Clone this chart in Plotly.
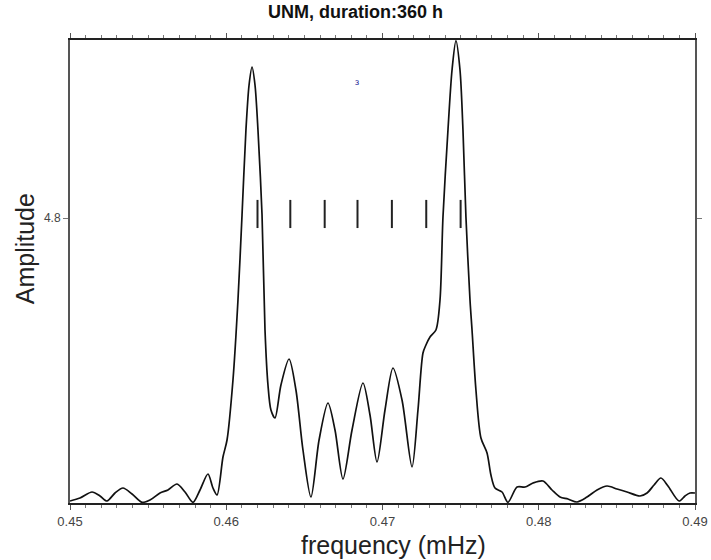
import plotly.graph_objects as go

# Spectrum trace (frequency in mHz, amplitude)
freq = [0.45000, 0.45064, 0.45141, 0.45192, 0.45237, 0.45288, 0.45339, 0.45397, 0.45461, 0.45512,
        0.45576, 0.45627, 0.45685, 0.45736, 0.45787, 0.45832, 0.45883, 0.45915, 0.45941, 0.45979,
        0.46005, 0.46043, 0.46075, 0.46101, 0.46126, 0.46146, 0.46165, 0.46184, 0.46203, 0.46229,
        0.46248, 0.46267, 0.46286, 0.46312, 0.46350, 0.46402, 0.46446, 0.46491, 0.46542, 0.46594,
        0.46651, 0.46696, 0.46747, 0.46805, 0.46875, 0.46920, 0.46965, 0.47016, 0.47067, 0.47125,
        0.47189, 0.47227, 0.47259, 0.47278, 0.47304, 0.47342, 0.47368, 0.47387, 0.47419, 0.47445,
        0.47470, 0.47496, 0.47515, 0.47534, 0.47560, 0.47573, 0.47598, 0.47630, 0.47669, 0.47694,
        0.47720, 0.47765, 0.47803, 0.47861, 0.47912, 0.47963, 0.48027, 0.48085, 0.48136, 0.48187,
        0.48245, 0.48309, 0.48373, 0.48437, 0.48501, 0.48565, 0.48648, 0.48693, 0.48738, 0.48782,
        0.48827, 0.48898, 0.48936, 0.48968, 0.49000]
amplitude = [4.0056, 4.0140, 4.0309, 4.0197, 4.0056, 4.0281, 4.0421, 4.0253, 4.0020, 4.0084,
             4.0281, 4.0365, 4.0533, 4.0309, 4.0020, 4.0365, 4.0814, 4.0421, 4.0225, 4.1292,
             4.1769, 4.3454, 4.5700, 4.8086, 5.0473, 5.1737, 5.2242, 5.1737, 5.0473, 4.8086,
             4.4858, 4.3313, 4.2611, 4.2387, 4.3313, 4.4043, 4.3173, 4.1488, 4.0168, 4.1769,
             4.2808, 4.2050, 4.0674, 4.2050, 4.3369, 4.2471, 4.1151, 4.2611, 4.3791, 4.2892,
             4.1011, 4.2611, 4.4212, 4.4436, 4.4661, 4.4858, 4.5700, 4.8030, 5.0473, 5.2158,
             5.2980, 5.2158, 5.0473, 4.8030, 4.5700, 4.4858, 4.3173, 4.1825, 4.1404, 4.0786,
             4.0421, 4.0309, 4.0020, 4.0449, 4.0449, 4.0562, 4.0618, 4.0365, 4.0168, 4.0112,
             4.0028, 4.0168, 4.0365, 4.0477, 4.0393, 4.0309, 4.0197, 4.0281, 4.0505, 4.0702,
             4.0477, 4.0056, 4.0197, 4.0281, 4.0281]

# Predicted singlet frequencies (vertical markers)
marker_freq = [0.4620, 0.4641, 0.4663, 0.4684, 0.4706, 0.4728, 0.4750]
marker_low = 4.772
marker_high = 4.851

title_text = "UNM, duration:360 h"
x_title = "frequency (mHz)"
y_title = "Amplitude"
x_ticks = [0.45, 0.46, 0.47, 0.48, 0.49]
x_ticklabels = ["0.45", "0.46", "0.47", "0.48", "0.49"]
y_ticks = [4.8]
y_ticklabels = ["4.8"]

mx, my = [], []
for f in marker_freq:
    mx += [f, f, None]
    my += [marker_low, marker_high, None]

fig = go.Figure()
fig.add_trace(go.Scatter(x=freq, y=amplitude, mode="lines",
                         line=dict(color="#111111", width=1.7, shape="spline", smoothing=0.8),
                         showlegend=False, hoverinfo="skip"))
fig.add_trace(go.Scatter(x=mx, y=my, mode="lines",
                         line=dict(color="#222222", width=2),
                         showlegend=False, hoverinfo="skip"))
fig.add_annotation(x=0.46837, y=5.182, text="з", showarrow=False,
                   font=dict(size=9, color="#2a2a9a", family="Liberation Sans"))

# axis titles placed as annotations for exact placement
fig.add_annotation(xref="paper", yref="paper", x=0.517, y=-0.091, text=x_title,
                   showarrow=False, xanchor="center", yanchor="middle",
                   font=dict(size=25, color="#222222"))
fig.add_annotation(xref="paper", yref="paper", x=-0.072, y=0.548, text=y_title,
                   showarrow=False, xanchor="center", yanchor="middle", textangle=-90,
                   font=dict(size=25, color="#222222"))

fig.update_layout(
    width=711, height=560,
    margin=dict(l=70, r=16, t=40, b=57),
    paper_bgcolor="white", plot_bgcolor="white",
    font=dict(family="Liberation Sans, Arial, sans-serif", color="#222222"),
    title=dict(text="<b>" + title_text + "</b>", x=0.5, xanchor="center", y=0.9786, yanchor="middle",
               font=dict(size=18, color="#111111")),
    xaxis=dict(range=[0.45, 0.49], tickvals=x_ticks, ticktext=x_ticklabels, automargin=False,
               ticks="outside", ticklen=5, tickwidth=1, tickcolor="#555555",
               minor=dict(dtick=0.001, ticks="outside", ticklen=3, tickcolor="#777777", tickwidth=1),
               showline=True, linecolor="#222222", linewidth=2, mirror="allticks",
               showgrid=False, zeroline=False,
               tickfont=dict(size=13, color="#444444")),
    yaxis=dict(range=[4.0, 5.3], tickvals=y_ticks, ticktext=y_ticklabels, automargin=False,
               ticks="outside", ticklen=5, tickwidth=1, tickcolor="#777777",
               showline=True, linecolor="#555555", linewidth=2, mirror="allticks",
               showgrid=False, zeroline=False,
               tickfont=dict(size=12, color="#444444")),
)

fig.write_html("out.html", config={"displayModeBar": False},
               post_script="document.body.style.margin='0';")
